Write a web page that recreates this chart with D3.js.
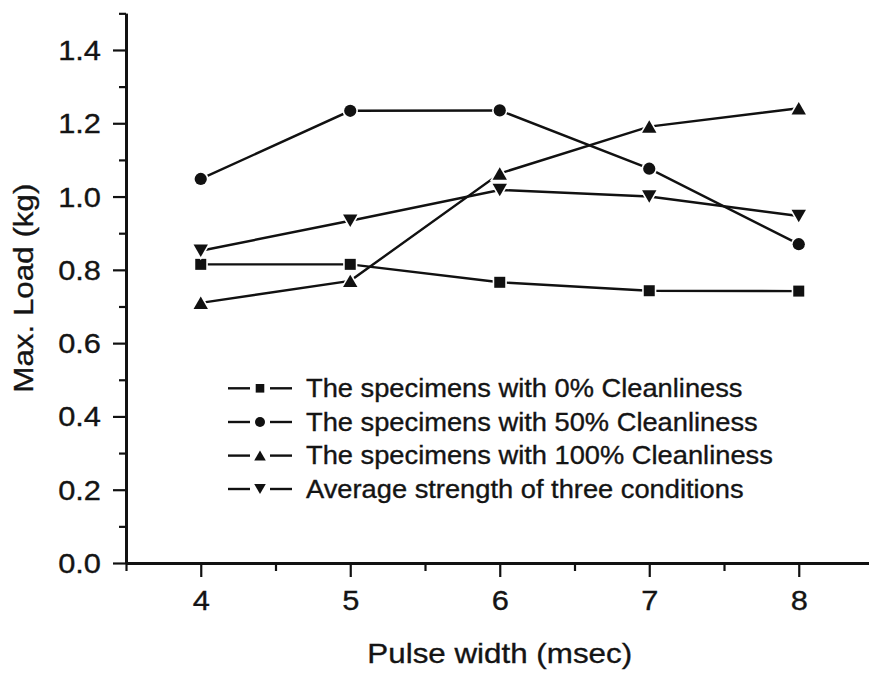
<!DOCTYPE html>
<html><head><meta charset="utf-8">
<script src="https://cdn.jsdelivr.net/npm/d3@7"></script>
<style>
html,body{margin:0;padding:0;background:#fff;}
svg text{font-family:"Liberation Sans",Arial,Helvetica,sans-serif;fill:#141414;stroke:#141414;stroke-width:0.35px;}
</style></head><body>
<svg id="chart" width="869" height="674"></svg>
<script>
// Pulse widths (msec) on the x axis
const pulseWidths = [4, 5, 6, 7, 8];
// Maximum load (kg) per cleanliness condition
const clean0   = [0.815, 0.815, 0.766, 0.743, 0.742];
const clean50  = [1.048, 1.234, 1.235, 1.076, 0.870];
const clean100 = [0.710, 0.770, 1.063, 1.191, 1.241];
const average  = [0.852, 0.934, 1.018, 1.000, 0.947];

const seriesNames = [
  "The specimens with 0% Cleanliness",
  "The specimens with 50% Cleanliness",
  "The specimens with 100% Cleanliness",
  "Average strength of three conditions"
];
const seriesMarkers = ["square", "circle", "triangleUp", "triangleDown"];

const yMajorTicks = [0, 0.2, 0.4, 0.6, 0.8, 1.0, 1.2, 1.4];
const yMinorTicks = [0.1, 0.3, 0.5, 0.7, 0.9, 1.1, 1.3, 1.5];
const xMajorTicks = [4, 5, 6, 7, 8];
const xMinorTicks = [3.5, 4.5, 5.5, 6.5, 7.5, 8.5];

const xTitle = "Pulse width (msec)";
const yTitle = "Max. Load (kg)";

const series = [clean0, clean50, clean100, average].map((vals, i) => ({
  name: seriesNames[i],
  marker: seriesMarkers[i],
  points: pulseWidths.map((p, j) => ({ x: p, y: vals[j] }))
}));

const svg = d3.select("#chart");
const left = 126, bottom = 563;
const x = d3.scaleLinear().domain([3.5, 8.5]).range([left, left + 5 * 149.5]);
const y = d3.scaleLinear().domain([0, 1.5]).range([bottom, bottom - 1.5 * 366.45]);

// the typeface is drawn slightly widened
const tickStretch = 1.1, titleStretch = 1.12, legendStretch = 1.07;

// marker shape generator, centred on the bounding box
function markerPath(type, s) {
  const h = s / 2;
  switch (type) {
    case "square": return `M${-h},${-h}H${h}V${h}H${-h}Z`;
    case "circle": return `M${h},0A${h},${h} 0 1,1 ${-h},0A${h},${h} 0 1,1 ${h},0Z`;
    case "triangleUp": { const w = s * 0.58, t = s * 0.5; return `M0,${-t}L${w},${t}L${-w},${t}Z`; }
    case "triangleDown": { const w = s * 0.58, t = s * 0.5; return `M0,${t}L${w},${-t}L${-w},${-t}Z`; }
  }
}
const plotMarkerSize = { square: 11, circle: 12.2, triangleUp: 12.4, triangleDown: 12.4 };
const legendMarkerSize = { square: 8.6, circle: 10, triangleUp: 10, triangleDown: 10 };

// axes
const yAxisMinor = d3.axisLeft(y).tickValues(yMinorTicks).tickSize(7).tickFormat("").tickSizeOuter(0);
const yAxisMajor = d3.axisLeft(y).tickValues(yMajorTicks).tickSize(13).tickPadding(12)
  .tickFormat(d3.format(".1f")).tickSizeOuter(0);
const xAxisMinor = d3.axisBottom(x).tickValues(xMinorTicks).tickSize(8).tickFormat("").tickSizeOuter(0);
const xAxisMajor = d3.axisBottom(x).tickValues(xMajorTicks).tickSize(14).tickPadding(13)
  .tickFormat(d3.format("d")).tickSizeOuter(0);

function styleAxis(g) {
  g.select(".domain").attr("stroke", "#111").attr("stroke-width", 2.8);
  g.selectAll(".tick line").attr("stroke", "#111").attr("stroke-width", 2.2);
  g.selectAll(".tick text").attr("font-size", "28px").attr("fill", "#141414")
    .attr("font-family", '"Liberation Sans",Arial,sans-serif')
    .each(function () {
      const t = d3.select(this);
      const x0 = +t.attr("x") || 0;
      t.attr("x", x0 / tickStretch).attr("transform", `scale(${tickStretch},1)`);
    });
}

svg.append("g").attr("transform", `translate(${left},0)`).call(yAxisMinor).call(styleAxis);
svg.append("g").attr("transform", `translate(${left},0)`).call(yAxisMajor).call(styleAxis)
  .selectAll(".tick text").attr("dy", "0.34em");
svg.append("g").attr("transform", `translate(0,${bottom})`).call(xAxisMinor).call(styleAxis);
svg.append("g").attr("transform", `translate(0,${bottom})`).call(xAxisMajor).call(styleAxis)
  .selectAll(".tick text").attr("dy", "0.71em");

// axis titles
svg.append("g").attr("transform", `translate(${x(6)},663)`)
  .append("text")
  .attr("transform", `scale(${titleStretch},1)`)
  .attr("text-anchor", "middle")
  .attr("font-size", "28px")
  .text(xTitle);
svg.append("g").attr("transform", `translate(33,${(y(0) + y(1.5)) / 2}) rotate(-90)`)
  .append("text")
  .attr("transform", `scale(${titleStretch},1)`)
  .attr("text-anchor", "middle")
  .attr("font-size", "28px")
  .text(yTitle);

// series lines and markers
const line = d3.line().x(d => x(d.x)).y(d => y(d.y));
const sg = svg.append("g").attr("class", "series");
series.forEach(s => {
  sg.append("path").datum(s.points)
    .attr("d", line).attr("fill", "none")
    .attr("stroke", "#111").attr("stroke-width", 2.4);
});
series.forEach(s => {
  sg.selectAll(null).data(s.points).enter().append("path")
    .attr("transform", d => `translate(${x(d.x)},${y(d.y)})`)
    .attr("d", markerPath(s.marker, plotMarkerSize[s.marker]))
    .attr("fill", "#111")
    .attr("stroke", "#fff").attr("stroke-width", 3.2)
    .attr("paint-order", "stroke");
});

// legend
const lg = svg.append("g").attr("class", "legend");
const legendRowY = [388.3, 422, 455.6, 489];
series.forEach((s, i) => {
  const row = lg.append("g").attr("transform", `translate(0,${legendRowY[i]})`);
  row.append("line").attr("x1", 228).attr("x2", 250).attr("y1", 0).attr("y2", 0)
    .attr("stroke", "#111").attr("stroke-width", 2.4);
  row.append("line").attr("x1", 270).attr("x2", 292).attr("y1", 0).attr("y2", 0)
    .attr("stroke", "#111").attr("stroke-width", 2.4);
  row.append("path").attr("transform", "translate(260,0)")
    .attr("d", markerPath(s.marker, legendMarkerSize[s.marker])).attr("fill", "#111");
  row.append("g").attr("transform", "translate(306,8.8)")
    .append("text")
    .attr("transform", `scale(${legendStretch},1)`)
    .attr("font-size", "25.5px")
    .text(s.name);
});
</script>
</body></html>
